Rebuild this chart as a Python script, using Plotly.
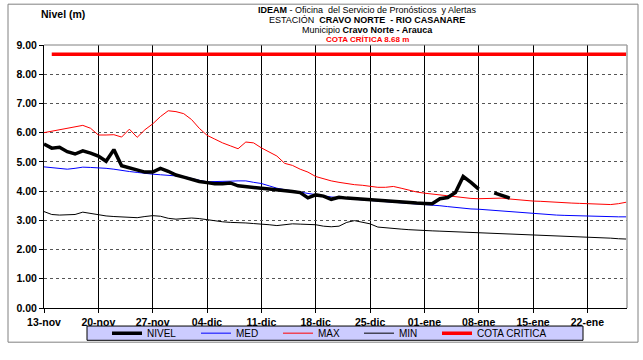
import pandas as pd
import plotly.graph_objects as go

# ---- data -------------------------------------------------------------
START = "2023-11-13"
N_DAYS = 76

NIVEL = [5.61, 5.47, 5.50, 5.35, 5.27, 5.38, 5.30, 5.20, 5.02, 5.42,
         4.87, 4.80, 4.72, 4.65, 4.65, 4.78, 4.68, 4.55, 4.48, 4.40,
         4.33, 4.29, 4.25, 4.25, 4.28, 4.18, 4.16, 4.15, 4.10, 4.07,
         4.05, 4.01, 3.99, 3.95, 3.77, 3.87, 3.83, 3.72, 3.79, 3.76,
         3.74, 3.71, 3.69, 3.67, 3.65, 3.63, 3.61, 3.60, 3.59, 3.58,
         3.57, 3.74, 3.78, 3.95, 4.50, 4.30, 4.07, None, 3.94, 3.86,
         3.76]

MED = [4.83, 4.80, 4.77, 4.75, 4.78, 4.82, 4.81, 4.80, 4.78, 4.75,
       4.70, 4.67, 4.64, 4.60, 4.58, 4.56, 4.55, 4.52, 4.50, 4.43,
       4.37, 4.32, 4.32, 4.33, 4.34, 4.35, 4.35, 4.30, 4.26, 4.18,
       4.10, 4.05, 4.02, 3.97, 3.92, 3.87, 3.84, 3.80, 3.77, 3.75,
       3.72, 3.70, 3.68, 3.66, 3.65, 3.64, 3.62, 3.60, 3.58, 3.56,
       3.53, 3.50, 3.47, 3.44, 3.41, 3.39, 3.38, 3.36, 3.34, 3.32,
       3.30, 3.27, 3.24, 3.22, 3.20, 3.19, 3.18, 3.17, 3.16, 3.15,
       3.15, 3.14, 3.13, 3.12, 3.12, 3.12]

MAX = [6.00, 6.05, 6.10, 6.15, 6.20, 6.25, 6.15, 5.92, 5.92, 5.93,
       5.85, 6.12, 5.84, 6.10, 6.30, 6.55, 6.75, 6.72, 6.65, 6.45,
       6.15, 5.91, 5.78, 5.65, 5.55, 5.45, 5.68, 5.65, 5.48, 5.35,
       5.20, 4.95, 4.88, 4.75, 4.65, 4.50, 4.42, 4.35, 4.30, 4.25,
       4.22, 4.20, 4.17, 4.13, 4.13, 4.16, 4.10, 4.03, 3.97, 3.93,
       3.90, 3.87, 3.83, 3.80, 3.77, 3.75, 3.74, 3.74, 3.76, 3.76,
       3.73, 3.70, 3.67, 3.66, 3.65, 3.63, 3.61, 3.60, 3.59, 3.58,
       3.57, 3.56, 3.55, 3.54, 3.57, 3.62]

MIN = [3.30, 3.20, 3.18, 3.18, 3.20, 3.28, 3.24, 3.18, 3.15, 3.13,
       3.12, 3.10, 3.09, 3.13, 3.16, 3.14, 3.07, 3.04, 3.06, 3.08,
       3.06, 3.02, 2.98, 2.95, 2.93, 2.93, 2.91, 2.89, 2.88, 2.85,
       2.82, 2.84, 2.88, 2.87, 2.86, 2.85, 2.80, 2.78, 2.80, 2.93,
       2.99, 2.94, 2.88, 2.77, 2.74, 2.72, 2.70, 2.68, 2.66, 2.65,
       2.64, 2.63, 2.62, 2.61, 2.60, 2.59, 2.58, 2.57, 2.56, 2.55,
       2.54, 2.52, 2.51, 2.50, 2.49, 2.48, 2.47, 2.46, 2.45, 2.43,
       2.42, 2.41, 2.40, 2.39, 2.37, 2.36]

COTA_CRITICA = 8.68

TICK_LABELS = ["13-nov", "20-nov", "27-nov", "04-dic", "11-dic", "18-dic",
               "25-dic", "01-ene", "08-ene", "15-ene", "22-ene"]
Y_TICKS = [0, 1, 2, 3, 4, 5, 6, 7, 8, 9]

# ---- derived axes -----------------------------------------------------
start = pd.Timestamp(START)
dates = pd.date_range(start, periods=N_DAYS, freq="D")
tick_dates = [start + pd.Timedelta(days=7 * i) for i in range(len(TICK_LABELS))]
x_end = start + pd.Timedelta(days=75.1)

FONT = "Liberation Sans, Arial, sans-serif"

# plot area in pixels (figure is 643 x 360)
W, H = 643, 360
L, R, T, B = 44, 16, 45, 38
PW, PH = W - L - R, H - T - B


def px(x):
    return (x - L) / PW


def py(y):
    return (H - B - y) / PH


fig = go.Figure()

fig.add_trace(go.Scatter(x=dates, y=MIN, name="MIN", mode="lines",
                         line=dict(color="black", width=1), legend="legend4"))
fig.add_trace(go.Scatter(x=dates, y=MAX, name="MAX", mode="lines",
                         line=dict(color="#ff0000", width=1), legend="legend3"))
fig.add_trace(go.Scatter(x=dates, y=MED, name="MED", mode="lines",
                         line=dict(color="#0000ff", width=1), legend="legend2"))
fig.add_trace(go.Scatter(x=dates[1:], y=[COTA_CRITICA] * (N_DAYS - 1),
                         name="COTA CRITICA", mode="lines",
                         line=dict(color="#ff0000", width=3.5), legend="legend5"))
fig.add_trace(go.Scatter(x=dates[:len(NIVEL)], y=NIVEL, name="NIVEL",
                         mode="lines", connectgaps=False,
                         line=dict(color="black", width=3.5), legend="legend"))

annotations = [
    dict(x=px(367), y=py(8),
         text="<b>IDEAM</b> - Oficina  del Servicio de Pronósticos  y Alertas",
         font=dict(size=9, color="black")),
    dict(x=px(367), y=py(18.5),
         text="ESTACIÓN  <b>CRAVO NORTE  - RIO CASANARE</b>",
         font=dict(size=9, color="black")),
    dict(x=px(367), y=py(29),
         text="Municipio <b>Cravo Norte - Arauca</b>",
         font=dict(size=9, color="black")),
    dict(x=px(367), y=py(39.3),
         text="<b>COTA CRÍTICA 8.68 m</b>",
         font=dict(size=8, color="#ff0000")),
    dict(x=px(40), y=py(12), xanchor="left", text="<b>Nivel (m)</b>",
         font=dict(size=10.5, color="black")),
]
for a in annotations:
    a.update(xref="paper", yref="paper", showarrow=False, yanchor="middle",
             borderpad=0)
    a.setdefault("xanchor", "center")
    a["font"]["family"] = FONT

shapes = [
    # outer chart frame
    dict(type="rect", xref="paper", yref="paper",
         x0=px(8), x1=px(638), y0=py(358), y1=py(2),
         line=dict(color="#808080", width=1), layer="below"),
    # legend box
    dict(type="rect", xref="paper", yref="paper",
         x0=px(87), x1=px(583), y0=py(356), y1=py(341),
         fillcolor="#ccccff", line=dict(color="black", width=1), layer="below"),
    # top and right plot border
    dict(type="line", xref="paper", yref="paper", x0=0, x1=1, y0=1, y1=1,
         line=dict(color="#808080", width=1)),
    dict(type="line", xref="paper", yref="paper", x0=1, x1=1, y0=0, y1=1,
         line=dict(color="#a0a0a0", width=1.5)),
]


def legend_at(text_x):
    # one legend per series, so each entry sits at its own position
    return dict(orientation="h", x=px(text_x - 38), y=py(348.5),
                xanchor="left", yanchor="middle",
                bgcolor="rgba(0,0,0,0)", borderwidth=0,
                font=dict(size=10, family=FONT, color="black"), itemwidth=30)


fig.update_layout(
    width=W, height=H,
    margin=dict(l=L, r=R, t=T, b=B, pad=0),
    paper_bgcolor="white", plot_bgcolor="white",
    font=dict(family=FONT, color="black"),
    showlegend=True,
    legend=legend_at(145),
    legend2=legend_at(234),
    legend3=legend_at(316),
    legend4=legend_at(397),
    legend5=legend_at(475),
    annotations=annotations,
    shapes=shapes,
)

fig.update_xaxes(
    range=[start, x_end], tickvals=tick_dates, ticktext=TICK_LABELS,
    showgrid=True, gridcolor="black", gridwidth=1,
    showline=True, linecolor="black", linewidth=1,
    ticks="outside", ticklen=4, tickcolor="black",
    tickfont=dict(size=10.5, family=FONT, weight="bold"),
    zeroline=False,
)
fig.update_yaxes(
    range=[0, 9], tickvals=Y_TICKS, tickformat=".2f",
    showgrid=True, gridcolor="#555555", gridwidth=1, griddash="dot",
    showline=True, linecolor="black", linewidth=1,
    ticks="outside", ticklen=4, tickcolor="black",
    tickfont=dict(size=10.5, family=FONT, weight="bold"),
    zeroline=False,
)

fig.write_html("out.html")
